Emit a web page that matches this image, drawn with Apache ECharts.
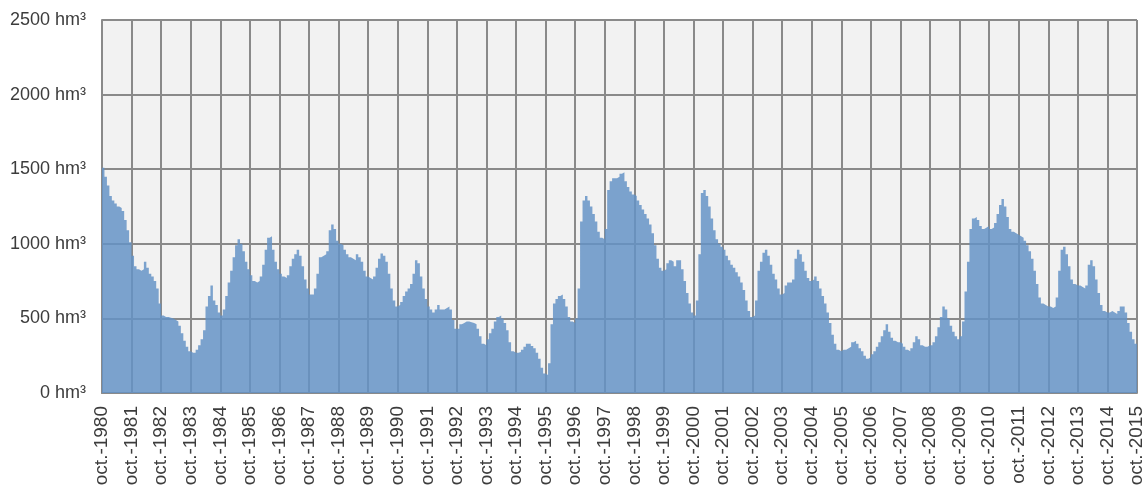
<!DOCTYPE html>
<html>
<head>
<meta charset="utf-8">
<script src="https://cdn.jsdelivr.net/npm/echarts@6/dist/echarts.min.js"></script>
<style>
html,body{margin:0;padding:0;background:#ffffff;}
#chart{width:1148px;height:491px;}
</style>
</head>
<body>
<div id="chart"></div>
<script>
// Monthly volume (hm³), hydrological years Oct -> Sep
const y1980 = [1510,1450,1390,1320,1290,1270,1250,1240,1220,1160,1090,1010];
const y1981 = [920,850,830,820,830,880,840,800,780,750,700,600];
const y1982 = [520,510,510,505,500,490,480,450,400,350,310,280];
const y1983 = [270,270,290,320,360,420,580,650,720,620,590,540];
const y1984 = [520,560,650,740,820,910,990,1030,1000,950,880,830];
const y1985 = [790,750,740,750,780,860,960,1040,1050,960,880,830];
const y1986 = [800,780,770,790,850,900,930,960,920,850,760,700];
const y1987 = [660,660,700,800,910,920,930,950,1090,1130,1100,1020];
const y1988 = [1000,990,960,930,910,900,890,930,910,880,820,780];
const y1989 = [770,760,780,840,900,935,920,880,800,700,620,580];
const y1990 = [590,610,650,680,700,730,800,890,870,780,700,630];
const y1991 = [580,560,540,560,590,560,560,570,580,560,490,430];
const y1992 = [430,460,470,480,480,475,470,460,430,380,330,320];
const y1993 = [360,400,430,480,510,520,500,470,420,340,280,270];
const y1994 = [270,275,290,310,330,330,315,300,270,230,170,130];
const y1995 = [120,200,460,600,630,650,660,630,580,510,480,470];
const y1996 = [500,700,1150,1290,1320,1290,1250,1200,1150,1080,1040,1030];
const y1997 = [1100,1360,1420,1440,1440,1450,1470,1480,1420,1380,1350,1330];
const y1998 = [1320,1290,1260,1230,1200,1170,1130,1070,990,900,840,820];
const y1999 = [830,870,890,880,850,890,890,830,750,670,600,540];
const y2000 = [520,620,930,1340,1360,1320,1250,1170,1090,1030,1000,980];
const y2001 = [960,920,890,860,840,810,780,740,690,620,550,510];
const y2002 = [520,620,820,880,940,960,920,860,800,760,700,660];
const y2003 = [670,720,740,740,760,900,960,930,880,820,770,750];
const y2004 = [760,780,750,700,650,600,540,470,390,330,290,280];
const y2005 = [290,290,300,310,340,350,330,300,280,250,230,240];
const y2006 = [260,280,310,340,380,420,460,410,370,350,340,340];
const y2007 = [330,310,290,280,300,340,380,360,320,310,310,320];
const y2008 = [320,340,380,440,510,580,560,500,450,410,380,360];
const y2009 = [380,480,680,880,1100,1170,1180,1160,1120,1100,1110,1120];
const y2010 = [1100,1110,1140,1200,1260,1300,1250,1180,1100,1080,1070,1060];
const y2011 = [1050,1040,1020,990,950,900,820,730,640,600,590,580];
const y2012 = [580,570,580,640,820,960,980,930,850,760,730,720];
const y2013 = [720,710,700,720,860,890,850,760,670,590,550,540];
const y2014 = [540,550,540,530,550,580,580,540,470,410,360,330];
const y2015 = [320]; // Oct 2015

const tickLabels = ['oct.-1980','oct.-1981','oct.-1982','oct.-1983','oct.-1984','oct.-1985','oct.-1986',
  'oct.-1987','oct.-1988','oct.-1989','oct.-1990','oct.-1991','oct.-1992','oct.-1993','oct.-1994',
  'oct.-1995','oct.-1996','oct.-1997','oct.-1998','oct.-1999','oct.-2000','oct.-2001','oct.-2002',
  'oct.-2003','oct.-2004','oct.-2005','oct.-2006','oct.-2007','oct.-2008','oct.-2009','oct.-2010',
  'oct.-2011','oct.-2012','oct.-2013','oct.-2014','oct.-2015'];

const years = [y1980,y1981,y1982,y1983,y1984,y1985,y1986,y1987,y1988,y1989,y1990,y1991,y1992,
  y1993,y1994,y1995,y1996,y1997,y1998,y1999,y2000,y2001,y2002,y2003,y2004,y2005,y2006,y2007,
  y2008,y2009,y2010,y2011,y2012,y2013,y2014,y2015];

const values = [].concat(...years);
const seriesData = values.map((v, i) => [i, v]);
const nMonths = values.length - 1;

const gridColor = '#8a8a8a';
const labelFont = "'Liberation Sans', Arial, sans-serif";

const chart = echarts.init(document.getElementById('chart'), null, {renderer: 'canvas'});
chart.setOption({
  animation: false,
  backgroundColor: '#ffffff',
  grid: {
    left: 102, right: 11, top: 20, bottom: 98,
    outerBoundsMode: 'none',
    containLabel: false,
    show: true, backgroundColor: '#f2f2f2', borderWidth: 0
  },
  xAxis: {
    type: 'value',
    min: 0, max: nMonths, interval: 12,
    axisLine: {show: true, lineStyle: {color: gridColor, width: 2}},
    axisTick: {show: false},
    splitLine: {show: true, lineStyle: {color: gridColor, width: 2}},
    axisLabel: {
      rotate: 90,
      margin: 13,
      fontFamily: labelFont,
      fontSize: 19,
      color: '#3c3c3c',
      showMinLabel: true,
      showMaxLabel: true,
      hideOverlap: false,
      formatter: function (v) { return tickLabels[Math.round(v / 12)]; }
    }
  },
  yAxis: {
    type: 'value',
    min: 0, max: 2500, interval: 500,
    axisLine: {show: true, lineStyle: {color: gridColor, width: 2}},
    axisTick: {show: false},
    splitLine: {show: true, lineStyle: {color: gridColor, width: 2}},
    axisLabel: {
      margin: 16,
      fontFamily: labelFont,
      fontSize: 18,
      color: '#3c3c3c',
      formatter: function (v) { return String(v) + ' hm³'; }
    }
  },
  series: [{
    type: 'line',
    step: 'end',
    data: seriesData,
    showSymbol: false,
    lineStyle: {width: 0},
    areaStyle: {color: 'rgba(100,146,198,0.84)', opacity: 1}
  }]
});
</script>
</body>
</html>
